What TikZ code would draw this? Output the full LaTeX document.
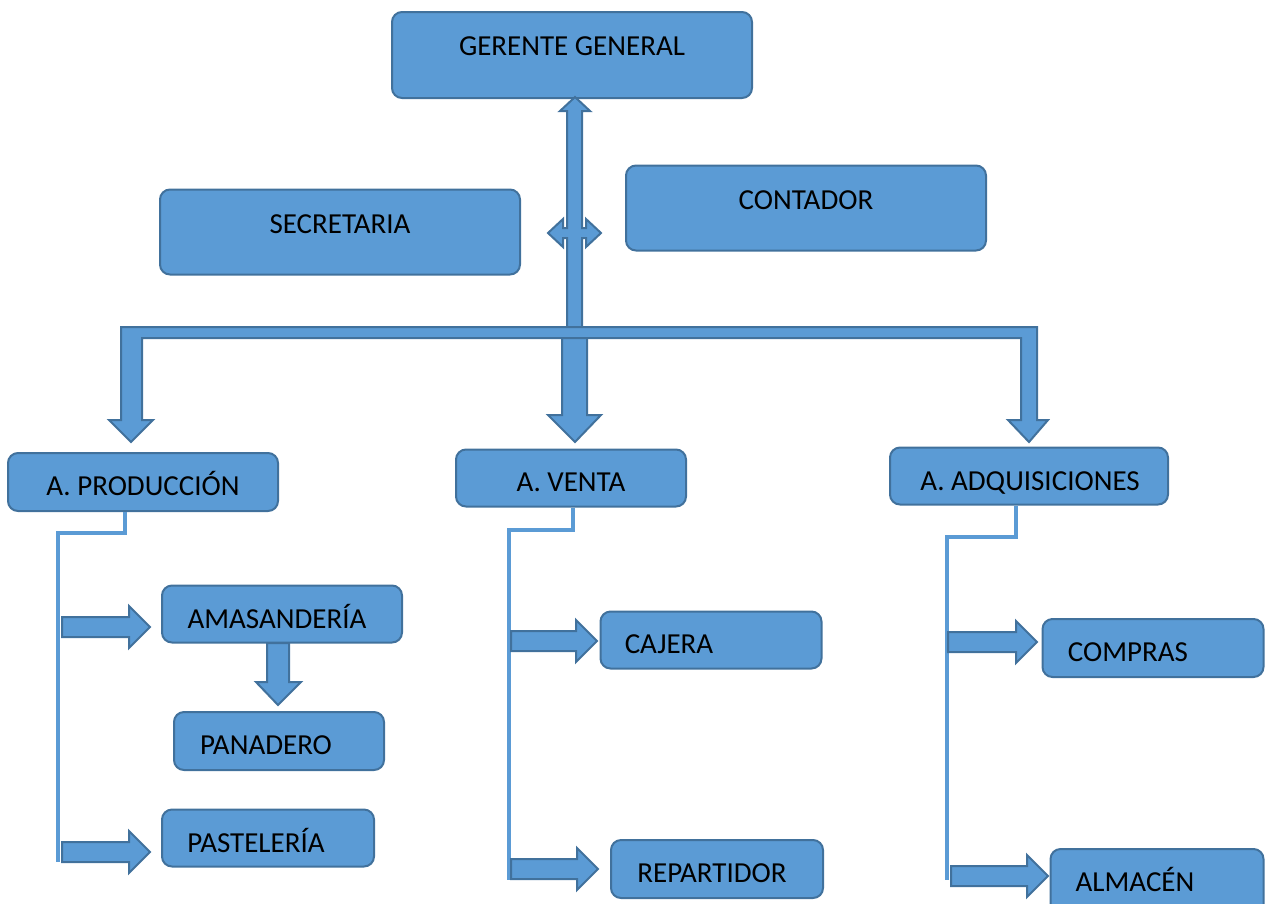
\documentclass[tikz,border=0pt]{standalone}
\usepackage{fontspec}
\setmainfont{Carlito}
\usepackage{tikz}

\definecolor{cajaazul}{HTML}{5B9BD5}
\definecolor{bordeazul}{HTML}{41719C}

\tikzset{
    caja/.style = {draw = bordeazul, fill = cajaazul, line width = 2pt,
        rounded corners = 10pt, inner sep = 0pt},
    texto/.style = {anchor = base, inner sep = 0pt, font = \fontsize{29}{32}\selectfont},
    flecha/.style = {draw = bordeazul, fill = cajaazul, line width = 2pt, line join = miter},
    linea/.style = {draw = cajaazul, line width = 4pt}
}

\begin{document}
\begin{tikzpicture}[x = 1pt, y = -1pt]
            \useasboundingbox (0,0) rectangle (1265,903);

            % cajas
            \node[caja, minimum width = 360, minimum height = 86] (gerente) at (572,55) {};
            \node[caja, minimum width = 360, minimum height = 85] (secretaria) at (340,232) {};
            \node[caja, minimum width = 360, minimum height = 85] (contador) at (806,208) {};
            \node[caja, minimum width = 270, minimum height = 58] (produccion) at (143,482) {};
            \node[caja, minimum width = 230, minimum height = 57] (venta) at (571,478) {};
            \node[caja, minimum width = 278, minimum height = 57] (adquisiciones) at (1029,476) {};
            \node[caja, minimum width = 240, minimum height = 57] (amasanderia) at (282,614) {};
            \node[caja, minimum width = 210, minimum height = 58] (panadero) at (279,741) {};
            \node[caja, minimum width = 212, minimum height = 57] (pasteleria) at (268,838) {};
            \node[caja, minimum width = 221, minimum height = 57] (cajera) at (711,640) {};
            \node[caja, minimum width = 212, minimum height = 58] (repartidor) at (717,869) {};
            \node[caja, minimum width = 221, minimum height = 58] (compras) at (1153,648) {};
            \node[caja, minimum width = 213, minimum height = 66] (almacen) at (1157,882) {};

            % textos
            \node[texto] (gerente-t) at (572,55) {GERENTE GENERAL};
            \node[texto] (secretaria-t) at (340,233) {SECRETARIA};
            \node[texto] (contador-t) at (806,209) {CONTADOR};
            \node[texto] (produccion-t) at (143,495) {A. PRODUCCIÓN};
            \node[texto] (venta-t) at (571,491) {A. VENTA};
            \node[texto] (adquisiciones-t) at (1030,490) {A. ADQUISICIONES};
            \node[texto] (amasanderia-t) at (277,628) {AMASANDERÍA};
            \node[texto] (panadero-t) at (266,754) {PANADERO};
            \node[texto] (pasteleria-t) at (256,852) {PASTELERÍA};
            \node[texto] (cajera-t) at (669,653) {CAJERA};
            \node[texto] (repartidor-t) at (712,882) {REPARTIDOR};
            \node[texto] (compras-t) at (1128,661) {COMPRAS};
            \node[texto] (almacen-t) at (1135,891) {ALMACÉN};

            % flecha de gerencia
            \draw[flecha]
            (575,97) -- (590,111) -- (582,111) -- (582,228) -- (586,228) -- (586,219) --
            (601,233) -- (586,247) -- (586,238) -- (582,238) -- (582,327) -- (567,327) --
            (567,238) -- (563,238) -- (563,247) -- (548,233) -- (563,219) -- (563,228) --
            (567,228) -- (567,111) -- (560,111) -- cycle;

            % barra y flechas a las areas
            \draw[flecha]
            (121,327) -- (1037,327) -- (1037,420) -- (1048,420) -- (1029,442) --
            (1008,420) -- (1021,420) -- (1021,338) -- (142,338) -- (142,420) --
            (153,420) -- (131,442) -- (109,420) -- (121,420) -- cycle;
            \draw[flecha]
            (562,338) -- (587,338) -- (587,415) -- (601,415) -- (575,442) --
            (548,415) -- (562,415) -- cycle;

            % lineas de cada area
            \draw[linea] ([xshift = -18]produccion.south) |- (58,533) -- (58,862);
            \draw[linea] ([xshift = 2]venta.south) |- (509,530) -- (509,880);
            \draw[linea] ([xshift = -13]adquisiciones.south) |- (947,537) -- (947,880);

            % flechas a las secciones
            \foreach \xa/\xb/\yc in {62/150/627, 62/150/852, 511/597/641,
                511/598/869, 948/1037/642, 951/1048/876}
                \draw[flecha]
                (\xa,\yc-10) -- (\xb-21,\yc-10) -- (\xb-21,\yc-21) -- (\xb,\yc) --
                (\xb-21,\yc+21) -- (\xb-21,\yc+10) -- (\xa,\yc+10) -- cycle;

            \draw[flecha]
            (267,643) -- (289,643) -- (289,682) -- (301,682) -- (278,705) --
            (256,682) -- (267,682) -- cycle;
        \end{tikzpicture}
\end{document}
